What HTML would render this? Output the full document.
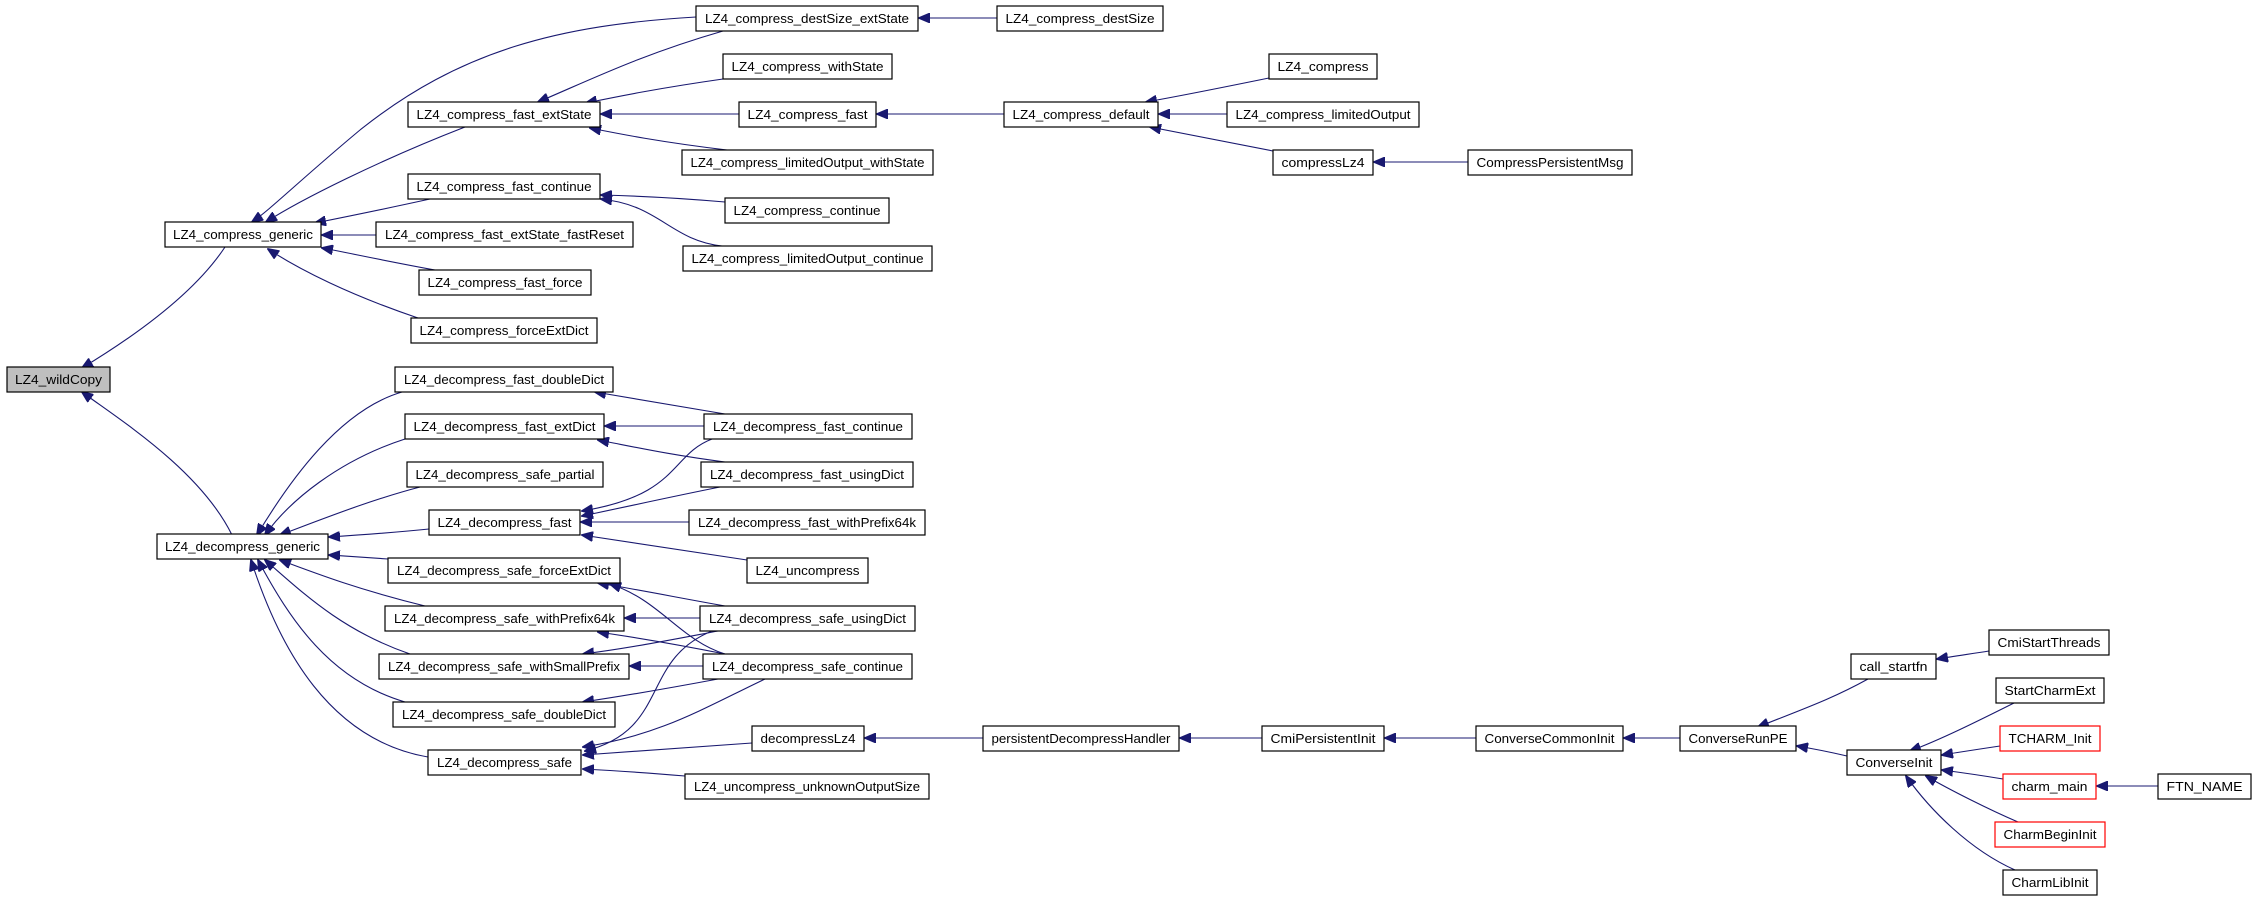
<!DOCTYPE html>
<html><head><meta charset="utf-8"><style>
html,body{margin:0;padding:0;background:#fff;}
svg{display:block;}
text{font-family:"Liberation Sans",sans-serif;font-size:13px;fill:#000;}
.e{fill:none;stroke:#191970;stroke-width:1.1;marker-end:url(#a);}
rect{fill:#fff;stroke:#000;stroke-width:1.2;}
</style></head><body>
<svg width="2256" height="899" viewBox="0 0 2256 899" xmlns="http://www.w3.org/2000/svg">
<defs><marker id="a" markerWidth="12" markerHeight="10" refX="11" refY="5" orient="auto" markerUnits="userSpaceOnUse"><path d="M0,0 L12,5 L0,10 Z" fill="#191970" stroke="#191970"/></marker></defs>
<g id="edges">
<!-- wildCopy -->
<path class="e" d="M225,247 C190,300 120,345 82,368"/>
<path class="e" d="M232,535 C200,470 120,420 82,392"/>
<!-- compress_generic -->
<path class="e" d="M696,17 C560,25 460,50 360,130 C300,180 270,210 252,222"/>
<path class="e" d="M465,127 C380,160 300,200 266,222"/>
<path class="e" d="M430,199 C380,210 340,218 315,223"/>
<path class="e" d="M376,235 L322,235"/>
<path class="e" d="M435,270 C380,260 345,252 322,248"/>
<path class="e" d="M418,318 C350,295 300,270 268,249"/>
<!-- fast_extState -->
<path class="e" d="M723,31 C640,55 590,80 538,102"/>
<path class="e" d="M723,79 C660,88 620,96 586,103"/>
<path class="e" d="M739,114 L601,114"/>
<path class="e" d="M727,150 C660,142 620,134 590,128"/>
<path class="e" d="M997,18 L919,18"/>
<path class="e" d="M1004,114 L877,114"/>
<path class="e" d="M1269,78 C1220,88 1180,96 1146,102"/>
<path class="e" d="M1227,114 L1159,114"/>
<path class="e" d="M1273,151 C1230,143 1190,135 1150,127"/>
<path class="e" d="M1468,162 L1374,162"/>
<path class="e" d="M725,202 C680,198 640,196 601,195"/>
<path class="e" d="M722,246 C670,240 660,205 601,199"/>
<!-- decompress_generic -->
<path class="e" d="M402,392 C340,410 290,480 257,535"/>
<path class="e" d="M405,439 C340,460 290,500 265,535"/>
<path class="e" d="M420,487 C370,500 320,520 280,535"/>
<path class="e" d="M429,529 C390,533 360,535 329,537"/>
<path class="e" d="M388,559 C360,557 345,556 329,555"/>
<path class="e" d="M425,606 C360,590 320,575 280,560"/>
<path class="e" d="M410,654 C340,630 300,590 265,560"/>
<path class="e" d="M405,702 C330,680 290,620 258,560"/>
<path class="e" d="M428,757 C330,740 280,650 251,560"/>
<!-- fast family -->
<path class="e" d="M725,414 C670,405 630,398 595,392"/>
<path class="e" d="M704,426 L605,426"/>
<path class="e" d="M725,462 C670,455 630,446 598,440"/>
<path class="e" d="M712,439 C670,455 680,495 582,511"/>
<path class="e" d="M720,487 C670,497 630,506 582,516"/>
<path class="e" d="M689,522 L581,522"/>
<path class="e" d="M747,560 C680,550 630,542 582,535"/>
<!-- safe family -->
<path class="e" d="M725,606 C680,598 640,590 598,583"/>
<path class="e" d="M725,654 C680,640 660,600 610,584"/>
<path class="e" d="M700,618 L625,618"/>
<path class="e" d="M725,654 C680,645 640,638 598,632"/>
<path class="e" d="M718,631 C670,640 630,648 583,654"/>
<path class="e" d="M703,666 L630,666"/>
<path class="e" d="M718,679 C670,688 630,695 583,702"/>
<path class="e" d="M712,631 C640,660 670,730 585,751"/>
<path class="e" d="M765,679 C700,710 660,735 583,747"/>
<path class="e" d="M752,743 C680,748 630,752 583,755"/>
<path class="e" d="M685,776 C650,773 620,771 583,769"/>
<!-- chain -->
<path class="e" d="M983,738 L865,738"/>
<path class="e" d="M1262,738 L1180,738"/>
<path class="e" d="M1476,738 L1385,738"/>
<path class="e" d="M1680,738 L1624,738"/>
<path class="e" d="M1868,679 C1830,700 1800,710 1758,727"/>
<path class="e" d="M1847,756 C1830,752 1815,749 1797,746"/>
<path class="e" d="M1989,651 C1970,654 1955,656 1937,659"/>
<path class="e" d="M2014,703 C1980,720 1940,740 1910,751"/>
<path class="e" d="M2000,746 C1980,749 1960,752 1942,755"/>
<path class="e" d="M2003,779 C1985,776 1965,773 1942,770"/>
<path class="e" d="M2018,822 C1990,810 1950,790 1926,776"/>
<path class="e" d="M2015,870 C1970,850 1930,810 1906,776"/>
<path class="e" d="M2158,786 L2097,786"/>
</g>
<g id="nodes">
<rect x="7" y="367" width="103" height="25" style="fill:#bfbfbf"/><text x="58.5" y="384" text-anchor="middle" textLength="87" lengthAdjust="spacingAndGlyphs">LZ4_wildCopy</text>
<rect x="165" y="222" width="156" height="25"/><text x="243" y="239" text-anchor="middle" textLength="140" lengthAdjust="spacingAndGlyphs">LZ4_compress_generic</text>
<rect x="157" y="534" width="171" height="25"/><text x="242.5" y="551" text-anchor="middle" textLength="155" lengthAdjust="spacingAndGlyphs">LZ4_decompress_generic</text>
<rect x="696" y="6" width="222" height="25"/><text x="807" y="23" text-anchor="middle" textLength="204" lengthAdjust="spacingAndGlyphs">LZ4_compress_destSize_extState</text>
<rect x="723" y="54" width="169" height="25"/><text x="807.5" y="71" text-anchor="middle" textLength="152" lengthAdjust="spacingAndGlyphs">LZ4_compress_withState</text>
<rect x="408" y="102" width="192" height="25"/><text x="504" y="119" text-anchor="middle" textLength="175" lengthAdjust="spacingAndGlyphs">LZ4_compress_fast_extState</text>
<rect x="739" y="102" width="137" height="25"/><text x="807.5" y="119" text-anchor="middle" textLength="120" lengthAdjust="spacingAndGlyphs">LZ4_compress_fast</text>
<rect x="682" y="150" width="251" height="25"/><text x="807.5" y="167" text-anchor="middle" textLength="234" lengthAdjust="spacingAndGlyphs">LZ4_compress_limitedOutput_withState</text>
<rect x="408" y="174" width="192" height="25"/><text x="504" y="191" text-anchor="middle" textLength="175" lengthAdjust="spacingAndGlyphs">LZ4_compress_fast_continue</text>
<rect x="725" y="198" width="164" height="25"/><text x="807" y="215" text-anchor="middle" textLength="147" lengthAdjust="spacingAndGlyphs">LZ4_compress_continue</text>
<rect x="376" y="222" width="257" height="25"/><text x="504.5" y="239" text-anchor="middle" textLength="239" lengthAdjust="spacingAndGlyphs">LZ4_compress_fast_extState_fastReset</text>
<rect x="683" y="246" width="249" height="25"/><text x="807.5" y="263" text-anchor="middle" textLength="232" lengthAdjust="spacingAndGlyphs">LZ4_compress_limitedOutput_continue</text>
<rect x="419" y="270" width="172" height="25"/><text x="505" y="287" text-anchor="middle" textLength="155" lengthAdjust="spacingAndGlyphs">LZ4_compress_fast_force</text>
<rect x="411" y="318" width="186" height="25"/><text x="504" y="335" text-anchor="middle" textLength="169" lengthAdjust="spacingAndGlyphs">LZ4_compress_forceExtDict</text>
<rect x="997" y="6" width="166" height="25"/><text x="1080" y="23" text-anchor="middle" textLength="149" lengthAdjust="spacingAndGlyphs">LZ4_compress_destSize</text>
<rect x="1269" y="54" width="108" height="25"/><text x="1323" y="71" text-anchor="middle" textLength="91" lengthAdjust="spacingAndGlyphs">LZ4_compress</text>
<rect x="1004" y="102" width="154" height="25"/><text x="1081" y="119" text-anchor="middle" textLength="137" lengthAdjust="spacingAndGlyphs">LZ4_compress_default</text>
<rect x="1227" y="102" width="192" height="25"/><text x="1323" y="119" text-anchor="middle" textLength="175" lengthAdjust="spacingAndGlyphs">LZ4_compress_limitedOutput</text>
<rect x="1273" y="150" width="100" height="25"/><text x="1323" y="167" text-anchor="middle" textLength="83" lengthAdjust="spacingAndGlyphs">compressLz4</text>
<rect x="1468" y="150" width="164" height="25"/><text x="1550" y="167" text-anchor="middle" textLength="147" lengthAdjust="spacingAndGlyphs">CompressPersistentMsg</text>
<rect x="395" y="367" width="218" height="25"/><text x="504" y="384" text-anchor="middle" textLength="200" lengthAdjust="spacingAndGlyphs">LZ4_decompress_fast_doubleDict</text>
<rect x="405" y="414" width="199" height="25"/><text x="504.5" y="431" text-anchor="middle" textLength="182" lengthAdjust="spacingAndGlyphs">LZ4_decompress_fast_extDict</text>
<rect x="704" y="414" width="208" height="25"/><text x="808" y="431" text-anchor="middle" textLength="190" lengthAdjust="spacingAndGlyphs">LZ4_decompress_fast_continue</text>
<rect x="407" y="462" width="196" height="25"/><text x="505" y="479" text-anchor="middle" textLength="179" lengthAdjust="spacingAndGlyphs">LZ4_decompress_safe_partial</text>
<rect x="701" y="462" width="212" height="25"/><text x="807" y="479" text-anchor="middle" textLength="194" lengthAdjust="spacingAndGlyphs">LZ4_decompress_fast_usingDict</text>
<rect x="429" y="510" width="151" height="25"/><text x="504.5" y="527" text-anchor="middle" textLength="134" lengthAdjust="spacingAndGlyphs">LZ4_decompress_fast</text>
<rect x="689" y="510" width="236" height="25"/><text x="807" y="527" text-anchor="middle" textLength="218" lengthAdjust="spacingAndGlyphs">LZ4_decompress_fast_withPrefix64k</text>
<rect x="388" y="558" width="232" height="25"/><text x="504" y="575" text-anchor="middle" textLength="214" lengthAdjust="spacingAndGlyphs">LZ4_decompress_safe_forceExtDict</text>
<rect x="747" y="558" width="121" height="25"/><text x="807.5" y="575" text-anchor="middle" textLength="104" lengthAdjust="spacingAndGlyphs">LZ4_uncompress</text>
<rect x="385" y="606" width="239" height="25"/><text x="504.5" y="623" text-anchor="middle" textLength="221" lengthAdjust="spacingAndGlyphs">LZ4_decompress_safe_withPrefix64k</text>
<rect x="700" y="606" width="215" height="25"/><text x="807.5" y="623" text-anchor="middle" textLength="197" lengthAdjust="spacingAndGlyphs">LZ4_decompress_safe_usingDict</text>
<rect x="379" y="654" width="250" height="25"/><text x="504" y="671" text-anchor="middle" textLength="232" lengthAdjust="spacingAndGlyphs">LZ4_decompress_safe_withSmallPrefix</text>
<rect x="703" y="654" width="209" height="25"/><text x="807.5" y="671" text-anchor="middle" textLength="191" lengthAdjust="spacingAndGlyphs">LZ4_decompress_safe_continue</text>
<rect x="393" y="702" width="222" height="25"/><text x="504" y="719" text-anchor="middle" textLength="204" lengthAdjust="spacingAndGlyphs">LZ4_decompress_safe_doubleDict</text>
<rect x="752" y="726" width="112" height="25"/><text x="808" y="743" text-anchor="middle" textLength="95" lengthAdjust="spacingAndGlyphs">decompressLz4</text>
<rect x="428" y="750" width="153" height="25"/><text x="504.5" y="767" text-anchor="middle" textLength="135" lengthAdjust="spacingAndGlyphs">LZ4_decompress_safe</text>
<rect x="685" y="774" width="244" height="25"/><text x="807" y="791" text-anchor="middle" textLength="226" lengthAdjust="spacingAndGlyphs">LZ4_uncompress_unknownOutputSize</text>
<rect x="983" y="726" width="196" height="25"/><text x="1081" y="743" text-anchor="middle" textLength="179" lengthAdjust="spacingAndGlyphs">persistentDecompressHandler</text>
<rect x="1262" y="726" width="122" height="25"/><text x="1323" y="743" text-anchor="middle" textLength="105" lengthAdjust="spacingAndGlyphs">CmiPersistentInit</text>
<rect x="1476" y="726" width="147" height="25"/><text x="1549.5" y="743" text-anchor="middle" textLength="130" lengthAdjust="spacingAndGlyphs">ConverseCommonInit</text>
<rect x="1680" y="726" width="116" height="25"/><text x="1738" y="743" text-anchor="middle" textLength="99" lengthAdjust="spacingAndGlyphs">ConverseRunPE</text>
<rect x="1851" y="654" width="85" height="25"/><text x="1893.5" y="671" text-anchor="middle" textLength="68" lengthAdjust="spacingAndGlyphs">call_startfn</text>
<rect x="1989" y="630" width="120" height="25"/><text x="2049" y="647" text-anchor="middle" textLength="103" lengthAdjust="spacingAndGlyphs">CmiStartThreads</text>
<rect x="1996" y="678" width="108" height="25"/><text x="2050" y="695" text-anchor="middle" textLength="91" lengthAdjust="spacingAndGlyphs">StartCharmExt</text>
<rect x="2000" y="726" width="100" height="25" style="stroke:#ff0000"/><text x="2050" y="743" text-anchor="middle" textLength="83" lengthAdjust="spacingAndGlyphs">TCHARM_Init</text>
<rect x="1847" y="750" width="94" height="25"/><text x="1894" y="767" text-anchor="middle" textLength="77" lengthAdjust="spacingAndGlyphs">ConverseInit</text>
<rect x="2003" y="774" width="93" height="25" style="stroke:#ff0000"/><text x="2049.5" y="791" text-anchor="middle" textLength="76" lengthAdjust="spacingAndGlyphs">charm_main</text>
<rect x="2158" y="774" width="93" height="25"/><text x="2204.5" y="791" text-anchor="middle" textLength="76" lengthAdjust="spacingAndGlyphs">FTN_NAME</text>
<rect x="1995" y="822" width="110" height="25" style="stroke:#ff0000"/><text x="2050" y="839" text-anchor="middle" textLength="93" lengthAdjust="spacingAndGlyphs">CharmBeginInit</text>
<rect x="2003" y="870" width="94" height="25"/><text x="2050" y="887" text-anchor="middle" textLength="77" lengthAdjust="spacingAndGlyphs">CharmLibInit</text>
</g>
</svg>
</body></html>
